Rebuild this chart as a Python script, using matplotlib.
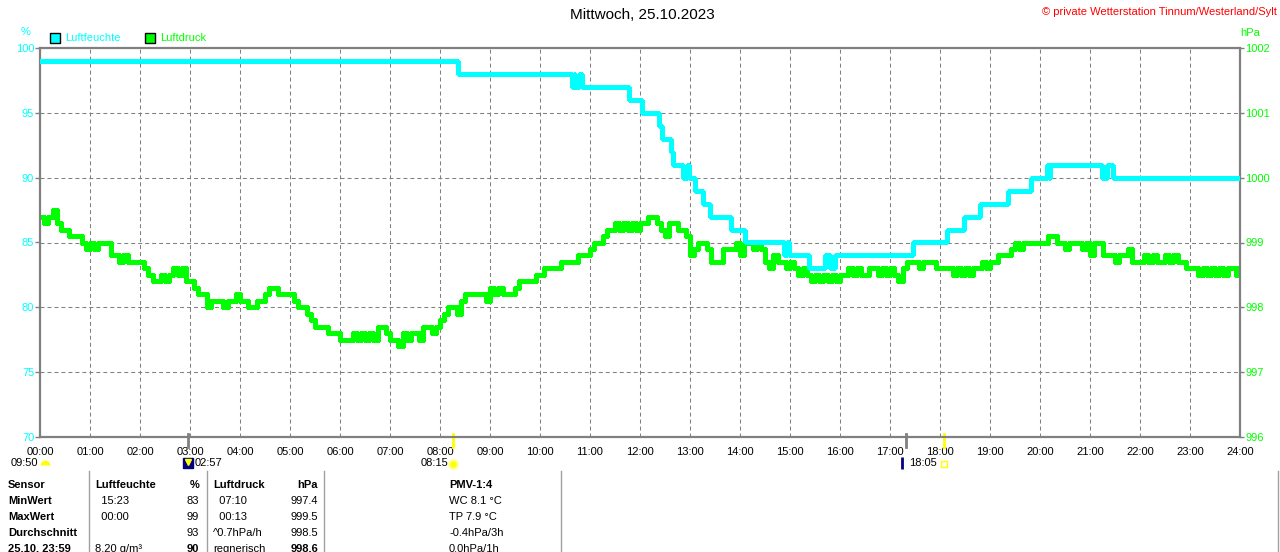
import matplotlib
matplotlib.use("Agg")
import matplotlib.pyplot as plt
import numpy as np
from matplotlib.lines import Line2D
from matplotlib.transforms import blended_transform_factory

plt.rcParams["font.family"] = ["Liberation Sans", "DejaVu Sans"]
plt.rcParams["font.size"] = 8

W, H = 1280, 552

# --- data ---------------------------------------------------------------
hours = list(range(25))
hour_labels = [f"{h:02d}:00" for h in hours]
humidity_ticks = [70, 75, 80, 85, 90, 95, 100]
pressure_ticks = [996, 997, 998, 999, 1000, 1001, 1002]

# humidity (%), stepwise: time of change (h) -> new value
humidity_times = [0.0, 8.36, 10.63, 10.67, 10.70, 10.77, 10.83, 11.77, 12.03,
                  12.37, 12.43, 12.62, 12.65, 12.85, 12.93, 12.97, 13.10,
                  13.25, 13.40, 13.81, 14.10, 14.87, 14.93, 14.97, 15.37,
                  15.70, 15.79, 15.90, 17.45, 18.15, 18.47, 18.79, 19.35,
                  19.82, 20.13, 20.17, 20.20, 21.23, 21.33, 21.45]
humidity_values = [99, 98, 97, 98, 97, 98, 97, 96, 95,
                   94, 93, 92, 91, 90, 91, 90, 89,
                   88, 87, 86, 85, 84, 85, 84, 83,
                   84, 83, 84, 85, 86, 87, 88, 89,
                   90, 91, 90, 91, 90, 91, 90]

# air pressure (hPa), every 5 minutes from 00:00 to 24:00
pressure_values = [
    999.4, 999.3, 999.4, 999.5, 999.3, 999.2, 999.2, 999.1, 999.1, 999.1, 999.0, 998.9,
    999.0, 998.9, 999.0, 999.0, 999.0, 998.8, 998.8, 998.7, 998.8, 998.7, 998.7, 998.7,
    998.7, 998.6, 998.5, 998.4, 998.4, 998.5, 998.4, 998.5, 998.6, 998.5, 998.6, 998.4,
    998.4, 998.3, 998.2, 998.2, 998.0, 998.1, 998.1, 998.1, 998.0, 998.1, 998.1, 998.2,
    998.1, 998.1, 998.0, 998.0, 998.1, 998.1, 998.2, 998.3, 998.3, 998.2, 998.2, 998.2,
    998.2, 998.1, 998.0, 998.0, 997.9, 997.8, 997.7, 997.7, 997.7, 997.6, 997.6, 997.6,
    997.5, 997.5, 997.5, 997.6, 997.5, 997.6, 997.5, 997.6, 997.5, 997.7, 997.7, 997.6,
    997.5, 997.5, 997.4, 997.6, 997.5, 997.6, 997.6, 997.5, 997.7, 997.7, 997.6, 997.7,
    997.8, 997.9, 998.0, 998.0, 997.9, 998.1, 998.2, 998.2, 998.2, 998.2, 998.2, 998.1,
    998.3, 998.2, 998.3, 998.2, 998.2, 998.2, 998.3, 998.4, 998.4, 998.4, 998.4, 998.5,
    998.5, 998.6, 998.6, 998.6, 998.6, 998.7, 998.7, 998.7, 998.7, 998.8, 998.8, 998.8,
    998.9, 999.0, 999.0, 999.1, 999.2, 999.2, 999.3, 999.2, 999.3, 999.2, 999.3, 999.2,
    999.3, 999.3, 999.4, 999.4, 999.3, 999.2, 999.1, 999.3, 999.3, 999.2, 999.2, 999.1,
    998.8, 998.9, 999.0, 999.0, 998.9, 998.7, 998.7, 998.7, 998.9, 998.9, 998.9, 999.0,
    998.8, 999.0, 999.0, 998.9, 999.0, 998.9, 998.7, 998.6, 998.8, 998.7, 998.7, 998.6,
    998.7, 998.6, 998.5, 998.6, 998.5, 998.4, 998.5, 998.4, 998.5, 998.4, 998.5, 998.4,
    998.5, 998.5, 998.6, 998.5, 998.6, 998.5, 998.5, 998.6, 998.6, 998.5, 998.6, 998.5,
    998.6, 998.5, 998.4, 998.6, 998.7, 998.7, 998.7, 998.6, 998.7, 998.7, 998.7, 998.6,
    998.6, 998.6, 998.6, 998.5, 998.6, 998.5, 998.6, 998.5, 998.6, 998.6, 998.7, 998.6,
    998.7, 998.7, 998.8, 998.8, 998.8, 998.9, 999.0, 998.9, 999.0, 999.0, 999.0, 999.0,
    999.0, 999.0, 999.1, 999.1, 999.0, 999.0, 998.9, 999.0, 999.0, 999.0, 998.9, 999.0,
    998.8, 999.0, 999.0, 998.8, 998.8, 998.8, 998.7, 998.8, 998.8, 998.9, 998.7, 998.7,
    998.7, 998.8, 998.7, 998.8, 998.7, 998.7, 998.8, 998.7, 998.8, 998.7, 998.7, 998.6,
    998.6, 998.6, 998.5, 998.6, 998.5, 998.6, 998.5, 998.6, 998.5, 998.6, 998.6, 998.5,
    998.6,
]
pressure_times = np.arange(len(pressure_values)) * 5 / 60

# sun / moon events (h)
moon_times = [2.95, 17.33]
sun_times = [8.25, 18.083]

table_rows = [
    ["Sensor", "MinWert", "MaxWert", "Durchschnitt", "25.10. 23:59"],
    ["Luftfeuchte", "  15:23", "  00:00", "", "8.20 g/m\u00b3"],
    ["%", "83", "99", "93", "90"],
    ["Luftdruck", "  07:10", "  00:13", "^0.7hPa/h", "regnerisch"],
    ["hPa", "997.4", "999.5", "998.5", "998.6"],
    ["PMV-1:4", "WC 8.1 \u00b0C", "TP 7.9 \u00b0C", "-0.4hPa/3h", "0.0hPa/1h"],
]

CYAN = "#00ffff"
GREEN = "#00ff00"
GRAY = "#808080"


def fx(x):
    return x / W


def fy(y):
    return 1 - y / H


fig = plt.figure(figsize=(12.8, 5.52), dpi=100)
ax = fig.add_axes([fx(40), fy(437), 1200 / W, 389 / H])
ax2 = ax.twinx()

# pressure on base axes (right scale), humidity on top (left scale)
ax.step(pressure_times, pressure_values, where="post", color=GREEN, lw=2.5,
        antialiased=False)
ax2.step(humidity_times + [24], humidity_values + [humidity_values[-1]],
         where="post", color=CYAN, lw=2.2, antialiased=False)

ax.set_xlim(0, 24)
ax.set_ylim(996, 1002)
ax2.set_ylim(70, 100)
ax.set_xticks(hours)
ax.set_xticklabels(hour_labels)
ax.set_yticks(pressure_ticks)
ax2.set_yticks(humidity_ticks)

ax.yaxis.set_ticks_position("right")
ax2.yaxis.set_ticks_position("left")
ax.tick_params(axis="x", length=0, pad=7.5, labelcolor="black")
ax.tick_params(axis="y", length=3, width=1, color=GRAY, labelcolor=GREEN, pad=0.6)
ax2.tick_params(axis="y", length=3.6, width=1, color=GRAY, labelcolor=CYAN, pad=0.6)

ax.grid(True, color=GRAY, linestyle=(0, (3.8, 2.9)), lw=0.75)
ax.set_axisbelow(True)
for sp in ax.spines.values():
    sp.set_color(GRAY)
    sp.set_linewidth(1.6)
for sp in ax2.spines.values():
    sp.set_visible(False)

# axis units and legend
fig.text(fx(26), fy(32), "%", color=CYAN, ha="center", va="center")
fig.text(fx(1250), fy(33), "hPa", color=GREEN, ha="center", va="center")
fig.text(fx(642), fy(15), "Mittwoch, 25.10.2023", ha="center", va="center", fontsize=11)
fig.text(fx(1277), fy(12), "\u00a9 private Wetterstation Tinnum/Westerland/Sylt",
         color="red", ha="right", va="center")

for x0, col, name in [(55, CYAN, "Luftfeuchte"), (150, GREEN, "Luftdruck")]:
    fig.add_artist(Line2D([fx(x0)], [fy(38)], marker="s", markersize=7.2,
                          markerfacecolor=col, markeredgecolor="black",
                          markeredgewidth=1, transform=fig.transFigure))
    fig.text(fx(x0 + 10), fy(38), name, color=col, ha="left", va="center")

# sun / moon markers below the time axis
trans = blended_transform_factory(ax.transData, fig.transFigure)
for t in moon_times:
    ax.plot([t, t], [fy(434), fy(447)], color=GRAY, lw=2, transform=trans,
            clip_on=False)
for t in sun_times:
    ax.plot([t, t], [fy(434), fy(447)], color="#ffff00", lw=2, transform=trans,
            clip_on=False)

ax.plot([moon_times[0]], [fy(463)], marker="s", markersize=7, color="#000080",
        transform=trans, clip_on=False)
ax.plot([moon_times[0]], [fy(462)], marker="v", markersize=4, color="#ffff00",
        transform=trans, clip_on=False)
ax.annotate("02:57", (moon_times[0], fy(463)), xycoords=trans,
            xytext=(5, 0), textcoords="offset points", ha="left", va="center")
ax.plot([moon_times[1] - 0.09], [fy(463)], marker="|", markersize=8, mew=2,
        color="#000080", transform=trans, clip_on=False)

ax.plot([sun_times[0]], [fy(464)], marker="o", markersize=6, color="#ffff00",
        mec="#ffff80", mew=1.5, transform=trans, clip_on=False)
ax.annotate("08:15", (sun_times[0], fy(463)), xycoords=trans,
            xytext=(-3, 0), textcoords="offset points", ha="right", va="center")
ax.plot([sun_times[1]], [fy(464)], marker="s", markersize=4, mfc="none",
        mec="#ffff00", mew=1, transform=trans, clip_on=False)
ax.annotate("18:05", (sun_times[1], fy(463)), xycoords=trans,
            xytext=(-5, 0), textcoords="offset points", ha="right", va="center")

fig.text(fx(11), fy(463), "09:50", ha="left", va="center")
fig.add_artist(Line2D([fx(44.5)], [fy(465)], marker="o", markersize=7,
                      fillstyle="top", markerfacecolor="#ffff00",
                      markeredgecolor="none", transform=fig.transFigure))

# summary table
row_y = [485, 501, 517, 533, 549]
col_x = [8, 95, 199, 213, 318, 449]
col_ha = ["left", "left", "right", "left", "right", "left"]
for c, (col, x, ha) in enumerate(zip(table_rows, col_x, col_ha)):
    for r, (txt, y) in enumerate(zip(col, row_y)):
        bold = (c == 0) or (r == 0) or (r == 4 and c in (2, 4))
        fig.text(fx(x), fy(y), txt, ha=ha, va="center",
                 fontweight="bold" if bold else "normal")

for x in [89, 207, 324, 561, 1278]:
    fig.add_artist(Line2D([fx(x), fx(x)], [fy(471), 0], color="#a0a0a0", lw=1,
                          transform=fig.transFigure))

fig.savefig("out.png", dpi=100)
